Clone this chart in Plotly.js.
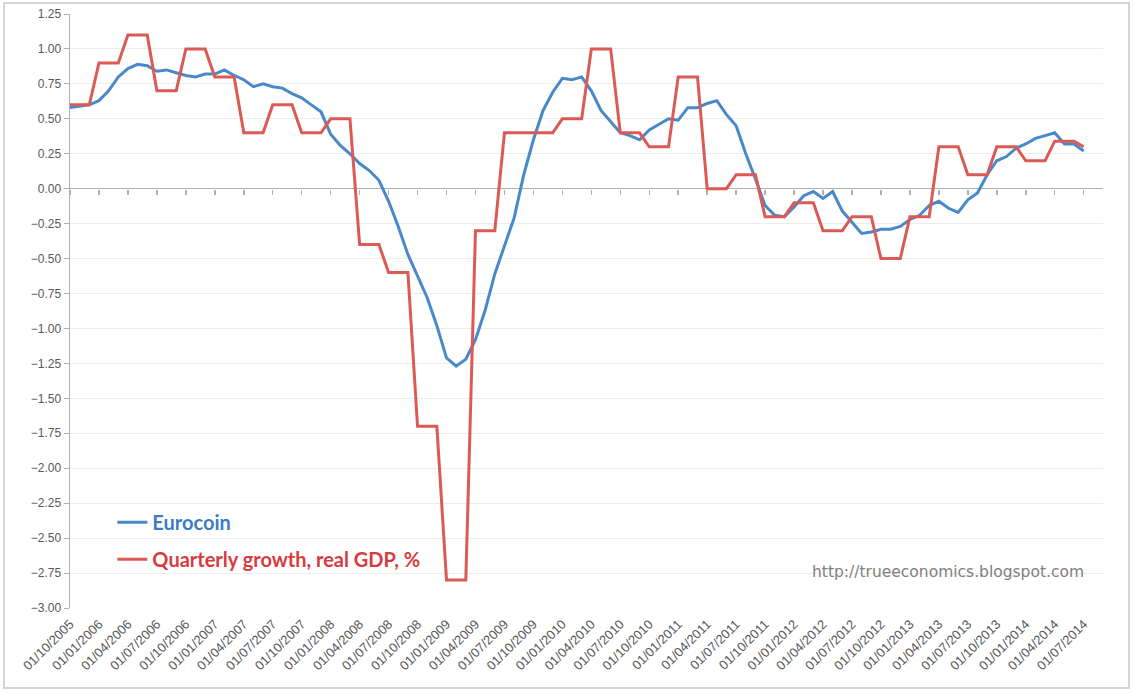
<!DOCTYPE html>
<html>
<head>
<meta charset="utf-8">
<script src="https://cdn.plot.ly/plotly-3.0.1.min.js"></script>
<style>
  html, body { margin: 0; padding: 0; background: #ffffff; }
  #chart { width: 1133px; height: 694px; }
</style>
</head>
<body>
<div id="chart"></div>
<script>
// Monthly observations, starting 01/10/2005
var startYear = 2005;
var startMonth = 10;

var eurocoin = [
  0.58, 0.59, 0.60, 0.63, 0.70, 0.80, 0.86, 0.89, 0.88, 0.84,
  0.85, 0.83, 0.81, 0.80, 0.82, 0.82, 0.85, 0.81, 0.78, 0.73,
  0.75, 0.73, 0.72, 0.68, 0.65, 0.60, 0.55, 0.39, 0.31, 0.25,
  0.18, 0.13, 0.06, -0.09, -0.27, -0.47, -0.63, -0.78, -0.98, -1.21,
  -1.27, -1.22, -1.08, -0.87, -0.61, -0.41, -0.21, 0.10, 0.35, 0.56,
  0.69, 0.79, 0.78, 0.80, 0.70, 0.56, 0.48, 0.40, 0.38, 0.35,
  0.42, 0.46, 0.50, 0.49, 0.58, 0.58, 0.61, 0.63, 0.53, 0.45,
  0.25, 0.07, -0.12, -0.19, -0.20, -0.13, -0.05, -0.02, -0.07, -0.02,
  -0.16, -0.24, -0.32, -0.31, -0.29, -0.29, -0.27, -0.22, -0.19, -0.12,
  -0.09, -0.14, -0.17, -0.08, -0.03, 0.10, 0.20, 0.23, 0.29, 0.32,
  0.36, 0.38, 0.40, 0.32, 0.32, 0.27
];

var gdpGrowth = [
  0.6, 0.6, 0.6, 0.9, 0.9, 0.9, 1.1, 1.1, 1.1, 0.7,
  0.7, 0.7, 1.0, 1.0, 1.0, 0.8, 0.8, 0.8, 0.4, 0.4,
  0.4, 0.6, 0.6, 0.6, 0.4, 0.4, 0.4, 0.5, 0.5, 0.5,
  -0.4, -0.4, -0.4, -0.6, -0.6, -0.6, -1.7, -1.7, -1.7, -2.8,
  -2.8, -2.8, -0.3, -0.3, -0.3, 0.4, 0.4, 0.4, 0.4, 0.4,
  0.4, 0.5, 0.5, 0.5, 1.0, 1.0, 1.0, 0.4, 0.4, 0.4,
  0.3, 0.3, 0.3, 0.8, 0.8, 0.8, 0.0, 0.0, 0.0, 0.1,
  0.1, 0.1, -0.2, -0.2, -0.2, -0.1, -0.1, -0.1, -0.3, -0.3,
  -0.3, -0.2, -0.2, -0.2, -0.5, -0.5, -0.5, -0.2, -0.2, -0.2,
  0.3, 0.3, 0.3, 0.1, 0.1, 0.1, 0.3, 0.3, 0.3, 0.2,
  0.2, 0.2, 0.34, 0.34, 0.34, 0.30
];

var seriesNames = ["Eurocoin", "Quarterly growth, real GDP, %"];
var yTicks = [1.25, 1.00, 0.75, 0.50, 0.25, 0.00, -0.25, -0.50, -0.75, -1.00, -1.25,
              -1.50, -1.75, -2.00, -2.25, -2.50, -2.75, -3.00];

// month index and tick labels (every quarter)
var monthIdx = [];
var tickVals = [];
var tickText = [];
for (var i = 0; i < eurocoin.length; i++) {
  monthIdx.push(i);
  var m = (startMonth - 1 + i) % 12 + 1;
  var y = startYear + Math.floor((startMonth - 1 + i) / 12);
  if (i % 3 === 0) {
    tickVals.push(i);
    tickText.push("01/" + (m < 10 ? "0" + m : m) + "/" + y);
  }
}

var blue = "#4a89c9";
var red = "#dc5a56";

var traces = [
  {
    x: monthIdx, y: eurocoin, type: "scatter", mode: "lines",
    name: '<b><span style="color:#3d7cc3">' + seriesNames[0] + '</span></b>',
    legendgroup: "a",
    line: { color: blue, width: 3 }
  },
  {
    x: monthIdx, y: gdpGrowth, type: "scatter", mode: "lines",
    name: '<b><span style="color:#d63c3e">' + seriesNames[1] + '</span></b>',
    legendgroup: "b",
    line: { color: red, width: 3 }
  },
  {
    x: monthIdx, y: eurocoin, xaxis: "x2", type: "scatter", mode: "lines",
    line: { width: 0, color: "rgba(0,0,0,0)" }, showlegend: false, hoverinfo: "skip"
  }
];

var layout = {
  width: 1133, height: 694,
  paper_bgcolor: "#ffffff", plot_bgcolor: "#ffffff",
  margin: { l: 70, r: 30, t: 14, b: 86 },
  font: { family: "Liberation Sans, Arial, sans-serif", color: "#595959" },
  showlegend: true,
  legend: {
    x: 0.041, y: 0.177, xanchor: "left", yanchor: "top",
    bgcolor: "rgba(0,0,0,0)",
    traceorder: "grouped", tracegroupgap: 8,
    font: { family: "Lato, Liberation Sans, sans-serif", size: 20 }
  },
  xaxis: {
    type: "linear", range: [0, 107],
    tickvals: tickVals, ticktext: tickText,
    tickangle: -45, ticks: "", showgrid: false, zeroline: false, showline: false,
    ticklabelstandoff: 5,
    tickfont: { size: 13, color: "#595959" }
  },
  xaxis2: {
    type: "linear", range: [0, 107], overlaying: "x", anchor: "free", position: 0.70588,
    side: "bottom", tickvals: tickVals, showticklabels: false,
    ticks: "outside", ticklen: 5, tickcolor: "#b0b0b0", tickwidth: 1.5,
    showgrid: false, zeroline: false, showline: false, layer: "below traces"
  },
  yaxis: {
    range: [-3, 1.25], tickvals: yTicks, tickformat: ".2f",
    showgrid: true, gridcolor: "#eeeee8", gridwidth: 1,
    zeroline: true, zerolinecolor: "#b0b0b0", zerolinewidth: 1.5,
    showline: true, linecolor: "#b0b0b0", linewidth: 1.5,
    ticks: "outside", ticklen: 5, tickcolor: "#b0b0b0",
    tickfont: { size: 12, color: "#595959" }
  },
  annotations: [
    {
      xref: "paper", yref: "paper", x: 0.984, y: 0.06, xanchor: "right", yanchor: "middle",
      text: "http://trueeconomics.blogspot.com", showarrow: false,
      font: { family: "DejaVu Sans, sans-serif", size: 15.5, color: "#7f7f7f" }
    }
  ],
  shapes: [
    {
      type: "rect", xref: "paper", yref: "paper",
      x0: -0.0639, x1: 1.0252, y0: -0.1347, y1: 1.0185,
      line: { color: "#c8c8c8", width: 1.5 }, fillcolor: "rgba(0,0,0,0)", layer: "below"
    }
  ]
};

Plotly.newPlot("chart", traces, layout, { displayModeBar: false, staticPlot: true });
</script>
</body>
</html>
